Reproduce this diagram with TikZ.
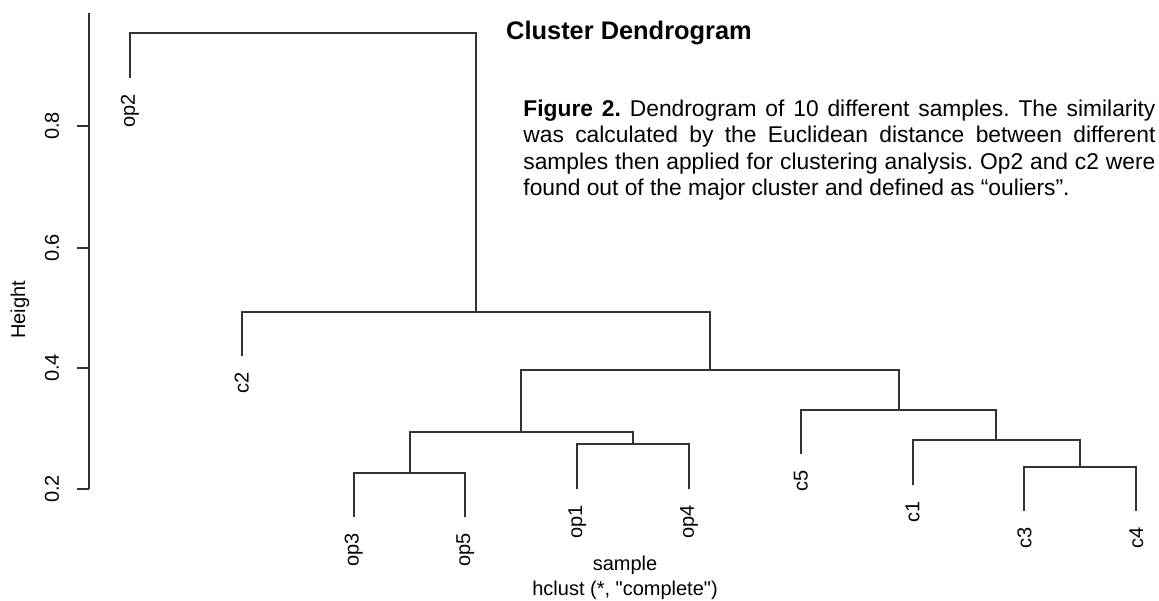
\documentclass[tikz,border=0pt]{standalone}
\usepackage{fontspec}
\setmainfont{Liberation Sans}[Ligatures=TeXOff]
\newfontfamily\capfont{Liberation Sans}
\usetikzlibrary{positioning}

\begin{document}
\frenchspacing
\begin{tikzpicture}[
    x=0.5pt, y=-0.5pt,
    branch/.style={line width=1pt, draw=black!80},
    leaf/.style={rotate=90, anchor=east, inner sep=0pt, font=\fontsize{10}{12}\selectfont},
    tick/.style={rotate=90, inner sep=0pt, font=\fontsize{10}{12}\selectfont},
    lbl/.style={inner sep=0pt, font=\fontsize{10}{12}\selectfont},
]
\useasboundingbox (0,0) rectangle (1159,600);

% y axis
\draw[branch] (89,13) -- (89,489);
\foreach \h/\yy [count=\i] in {0.2/489, 0.4/368, 0.6/248, 0.8/126} {
  \draw[branch] (77,\yy) -- (89,\yy);
  \node[tick] (tick\i) at (52,\yy) {\h};
}
\node[lbl, rotate=90] (ylab) at (20,310) {Height};

% leaves
\foreach \n/\xx/\yy in {op2/130/78, c2/241.8/356, op3/353.6/517, op5/465.4/517,
    op1/577.2/489, op4/689/489, c5/800.8/454, c1/912.6/485, c3/1024.4/511, c4/1136.2/511} {
  \coordinate (\n e) at (\xx,\yy);
  \node[leaf] (\n) at (\xx,\yy+16) {\n};
}

% merges
\coordinate (m1) at (409.5,473);
\coordinate (m2) at (633.1,444);
\coordinate (m3) at (521.3,432);
\coordinate (m4) at (1080.3,467);
\coordinate (m5) at (996.45,440);
\coordinate (m6) at (898.6,410);
\coordinate (m7) at (709.95,370);
\coordinate (m8) at (475.9,312);
\coordinate (m9) at (302.95,33);

\draw[branch] (op3e) |- (m1) -| (op5e);
\draw[branch] (op1e) |- (m2) -| (op4e);
\draw[branch] (m1) |- (m3) -| (m2);
\draw[branch] (c3e) |- (m4) -| (c4e);
\draw[branch] (c1e) |- (m5) -| (m4);
\draw[branch] (c5e) |- (m6) -| (m5);
\draw[branch] (m3) |- (m7) -| (m6);
\draw[branch] (c2e) |- (m8) -| (m7);
\draw[branch] (op2e) |- (m9) -| (m8);

% titles
\node[inner sep=0pt, font=\bfseries\fontsize{12.7}{15}\selectfont] (title) at (629,33) {Cluster Dendrogram};
\node[lbl] (xlab) at (625,565) {sample};
\node[lbl] (meth) at (625,590) {hclust (*, "complete")};

\node[anchor=base west, text width=316pt, inner sep=0pt, align=justify,
      font=\capfont\fontsize{11.4}{13.25}\selectfont] (caption) at (523,116)
  {\textbf{Figure 2.} Dendrogram of 10 different samples. The similarity\linebreak
   was calculated by the Euclidean distance between different\linebreak
   samples then applied for clustering analysis. Op2 and c2 were\linebreak
   found out of the major cluster and defined as “ouliers”.};
\end{tikzpicture}
\end{document}
